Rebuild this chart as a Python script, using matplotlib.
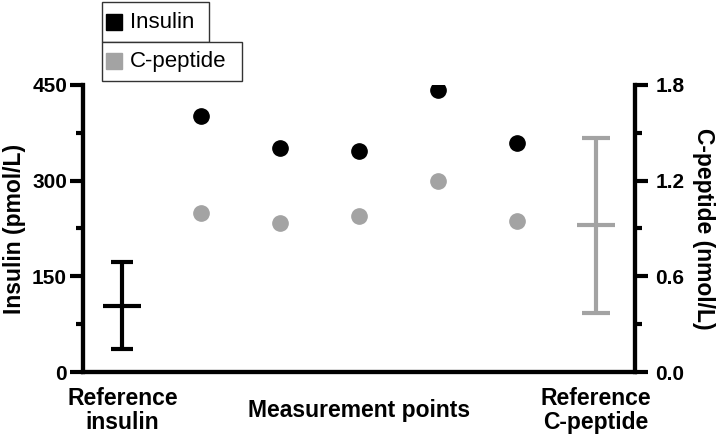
import matplotlib
matplotlib.use("Agg")
import matplotlib.pyplot as plt
from matplotlib.lines import Line2D
from matplotlib.patches import Rectangle

plt.rcParams["font.family"] = ["Liberation Sans", "DejaVu Sans"]

# measurement points (positions 1..5)
points = [1, 2, 3, 4, 5]
insulin = [401, 352, 346, 442, 359]          # pmol/L
cpeptide = [0.995, 0.936, 0.978, 1.196, 0.949]  # nmol/L

# reference ranges: mean, low, high
ref_insulin = (103, 35.6, 173)
ref_cpep = (0.922, 0.372, 1.465)

xlabels = ["Reference\ninsulin", "Measurement points", "Reference\nC-peptide"]
xlabel_pos = [0, 3, 6]
legend_names = ["Insulin", "C-peptide"]

black = "#000000"
grey = "#A3A3A3"

W, H = 720, 436
fig = plt.figure(figsize=(7.2, 4.36), dpi=100)
ax = fig.add_axes([83 / W, 1 - 372 / H, (635 - 83) / W, 287 / H])
ax2 = ax.twinx()

ax.plot(points, insulin, "o", color=black, ms=11, zorder=3)
ax2.plot(points, cpeptide, "o", color=grey, ms=11, zorder=3)

m, lo, hi = ref_insulin
ax.errorbar([0], [m], yerr=[[m - lo], [hi - m]], fmt="none", ecolor=black,
            elinewidth=3, capsize=8, capthick=3)
ax.plot([0], [m], marker="_", color=black, ms=27, mew=3)

m, lo, hi = ref_cpep
ax2.errorbar([6], [m], yerr=[[m - lo], [hi - m]], fmt="none", ecolor=grey,
             elinewidth=3, capsize=10, capthick=3)
ax2.plot([6], [m], marker="_", color=grey, ms=27, mew=3)

ax.set_xlim(-0.5, 6.5)
ax.set_ylim(0, 450)
ax2.set_ylim(0, 1.8)
ax.set_yticks([0, 150, 300, 450])
ax.set_yticks([75, 225, 375], minor=True)
ax2.set_yticks([0, 0.6, 1.2, 1.8])
ax2.set_yticks([0.3, 0.9, 1.5], minor=True)
ax2.set_yticklabels(["0.0", "0.6", "1.2", "1.8"])

for a in (ax, ax2):
    for s in a.spines.values():
        s.set_linewidth(3)
    a.spines["top"].set_visible(False)
    a.tick_params(axis="y", which="major", length=9.5, width=3, labelsize=15)
    a.tick_params(axis="y", which="minor", length=5, width=3)
    for lab in a.get_yticklabels():
        lab.set_fontweight("bold")

ax.tick_params(axis="y", pad=2)
ax2.tick_params(axis="y", pad=5)

ax.set_xticks(xlabel_pos)
ax.set_xticklabels(xlabels, fontsize=16.5, fontweight="bold", va="center",
                   linespacing=1.05)
ax.tick_params(axis="x", length=0, pad=28)

ax.set_ylabel("Insulin (pmol/L)", fontsize=16.5, fontweight="bold", labelpad=4)
ax2.set_ylabel("C-peptide (nmol/L)", fontsize=16.5, fontweight="bold",
               rotation=270, labelpad=22)

# two stacked legend boxes, drawn in pixel coordinates of the figure
boxes = [(102, 2, 209, 42), (102, 42, 242, 81)]
for (x0, y0, x1, y1), name, col in zip(boxes, legend_names, [black, grey]):
    fig.patches.append(Rectangle((x0 / W, 1 - y1 / H), (x1 - x0) / W, (y1 - y0) / H,
                                 transform=fig.transFigure, fill=True,
                                 facecolor="white", edgecolor="#333333", lw=1))
    yc = 1 - (y0 + y1) / 2 / H
    fig.lines.append(Line2D([113.5 / W], [yc], marker="s", ms=12, color=col,
                            ls="none", transform=fig.transFigure))
    fig.text(130 / W, yc, name, fontsize=16, va="center", ha="left")

fig.savefig("out.png", dpi=100)
